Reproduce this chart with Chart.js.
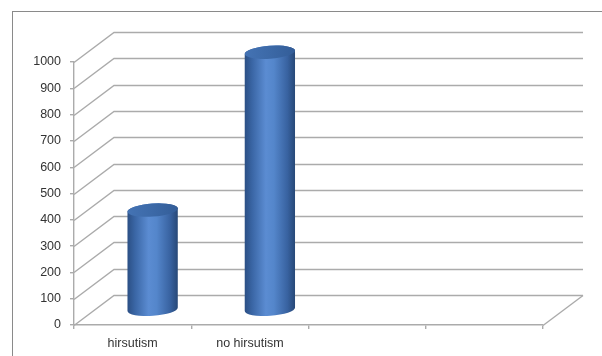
<!DOCTYPE html>
<html>
<head>
<meta charset="utf-8">
<script src="https://cdn.jsdelivr.net/npm/chart.js@4/dist/chart.umd.min.js"></script>
<style>
  html, body { margin: 0; padding: 0; background: #ffffff; }
  canvas { display: block; }
</style>
</head>
<body>
<canvas id="chart" width="602" height="356"></canvas>
<script>
// Categories and values
const categories = ['hirsutism', 'no hirsutism', '', ''];
const counts = [380, 980, null, null];
const yTicks = { min: 0, max: 1000, step: 100 };

// Depth of the pseudo-3D box (floor and back wall offset)
const DEPTH_X = 40;
const DEPTH_Y = -30;
const GRID_COLOR = '#ababab';
const TEXT_COLOR = '#333333';
const FONT = { family: '"Liberation Sans", Arial, sans-serif', size: 12.5 };

// Outer frame of the chart object
const framePlugin = {
  id: 'frame',
  beforeDraw(chart) {
    const ctx = chart.ctx;
    ctx.save();
    ctx.fillStyle = '#ffffff';
    ctx.fillRect(0, 0, chart.width, chart.height);
    ctx.strokeStyle = '#8a8a8a';
    ctx.lineWidth = 1;
    ctx.strokeRect(12.5, 11.5, chart.width + 20, chart.height + 20);
    ctx.restore();
  }
};

// Back wall gridlines, floor and the diagonal connectors
const wallPlugin = {
  id: 'walls',
  beforeDatasetsDraw(chart) {
    const { ctx, chartArea } = chart;
    const y = chart.scales.y;
    const L = chartArea.left, R = chartArea.right;
    ctx.save();
    ctx.strokeStyle = GRID_COLOR;
    ctx.lineWidth = 1.4;
    y.ticks.forEach(t => {
      const py = Math.round(y.getPixelForValue(t.value)) + 0.5;
      ctx.beginPath();
      ctx.moveTo(L, py);
      ctx.lineTo(L + DEPTH_X, py + DEPTH_Y);
      ctx.lineTo(R + DEPTH_X, py + DEPTH_Y);
      ctx.stroke();
    });
    const p0 = Math.round(y.getPixelForValue(0)) + 0.5;
    ctx.beginPath();
    ctx.moveTo(R, p0);
    ctx.lineTo(R + DEPTH_X, p0 + DEPTH_Y);
    ctx.stroke();
    ctx.restore();
  }
};

// Cylinders drawn on each bar element, placed halfway into the depth
const cylinderPlugin = {
  id: 'cylinders',
  afterDatasetsDraw(chart) {
    const ctx = chart.ctx;
    const meta = chart.getDatasetMeta(0);
    const rot = -0.07;
    meta.data.forEach((bar, i) => {
      if (counts[i] == null) return;
      const { x, y, base, width } = bar.getProps(['x', 'y', 'base', 'width'], true);
      const cx = x + DEPTH_X / 2;
      const top = y + DEPTH_Y / 2;
      const bottom = base + DEPTH_Y / 2;
      const rx = width / 2;
      const ry = 6.5;
      ctx.save();
      const g = ctx.createLinearGradient(cx - rx, 0, cx + rx, 0);
      g.addColorStop(0, '#2b4f84');
      g.addColorStop(0.15, '#3a66a5');
      g.addColorStop(0.42, '#5b8cd2');
      g.addColorStop(0.58, '#5486cb');
      g.addColorStop(0.85, '#3862a0');
      g.addColorStop(1, '#274877');
      ctx.beginPath();
      ctx.ellipse(cx, bottom, rx, ry, rot, Math.PI, 0, true);
      ctx.ellipse(cx, top, rx, ry, rot, 0, Math.PI, true);
      ctx.closePath();
      ctx.fillStyle = g;
      ctx.fill();
      const gc = ctx.createLinearGradient(cx - rx, top, cx + rx, top);
      gc.addColorStop(0, '#4473b4');
      gc.addColorStop(0.5, '#3c69a7');
      gc.addColorStop(1, '#335d98');
      ctx.beginPath();
      ctx.ellipse(cx, top, rx, ry, rot, 0, Math.PI * 2);
      ctx.fillStyle = gc;
      ctx.fill();
      ctx.restore();
    });
  }
};

new Chart(document.getElementById('chart'), {
  type: 'bar',
  data: {
    labels: categories,
    datasets: [{
      data: counts,
      backgroundColor: 'rgba(0,0,0,0)',
      borderWidth: 0,
      barPercentage: 0.43,
      categoryPercentage: 1
    }]
  },
  options: {
    responsive: false,
    animation: false,
    events: [],
    layout: { padding: { top: 62, right: 59, left: 0, bottom: 0 } },
    plugins: { legend: { display: false }, tooltip: { enabled: false } },
    scales: {
      x: {
        type: 'category',
        offset: true,
        grid: { offset: true, drawOnChartArea: false, drawTicks: true, tickLength: 4, color: GRID_COLOR, lineWidth: 1.4 },
        border: { color: GRID_COLOR, width: 1.4 },
        ticks: { color: TEXT_COLOR, font: FONT, padding: 7, maxRotation: 0, autoSkip: false },
        afterFit(s) { s.height = 31; }
      },
      y: {
        min: yTicks.min,
        max: yTicks.max,
        grid: { drawOnChartArea: false, drawTicks: true, tickLength: 4, color: GRID_COLOR, lineWidth: 1.4 },
        border: { color: GRID_COLOR, width: 1.4 },
        ticks: { stepSize: yTicks.step, color: TEXT_COLOR, font: FONT, padding: 9, callback: v => String(v) },
        afterFit(s) { s.width = 74; }
      }
    }
  },
  plugins: [framePlugin, wallPlugin, cylinderPlugin]
});
</script>
</body>
</html>
